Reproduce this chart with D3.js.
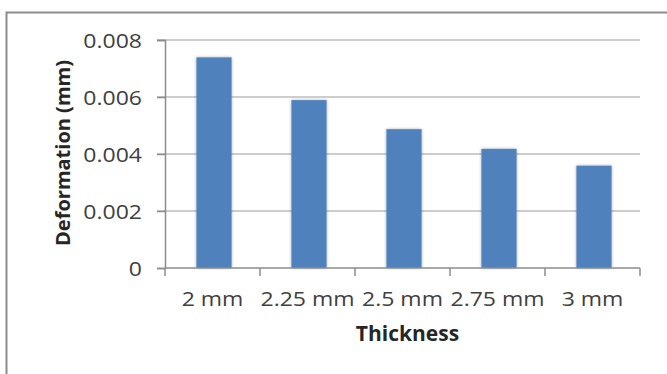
<!DOCTYPE html>
<html><head><meta charset="utf-8">
<script src="https://cdn.jsdelivr.net/npm/d3@7/dist/d3.min.js"></script>
<style>html,body{margin:0;padding:0;background:#fff;}svg{display:block;}</style>
</head><body>
<script>
const categories = ["2 mm", "2.25 mm", "2.5 mm", "2.75 mm", "3 mm"];
const deformation = [0.00739, 0.00589, 0.00487, 0.00418, 0.00359];
const yTicks = [0, 0.002, 0.004, 0.006, 0.008];
const yTickLabels = ["0", "0.002", "0.004", "0.006", "0.008"];
const xTitle = "Thickness";
const yTitle = "Deformation (mm)";

(function () {
const W = 667, H = 374;
const svg = d3.select("body").append("svg").attr("width", W).attr("height", H);

const defs = svg.append("defs");
const f = defs.append("filter").attr("id", "sh").attr("x", "-30%").attr("y", "-10%").attr("width", "160%").attr("height", "120%");
f.append("feDropShadow").attr("dx", 0).attr("dy", 0).attr("stdDeviation", 1.6).attr("flood-color", "#000").attr("flood-opacity", 0.35);

// outer frame
svg.append("rect").attr("x", 6.5).attr("y", 12.5).attr("width", 720).attr("height", 420)
  .attr("fill", "#fff").attr("stroke", "#8c8c8c").attr("stroke-width", 2);

const pLeft = 165, pRight = 640, pTop = 40, pBottom = 268;
const x = d3.scaleBand().domain(categories).range([pLeft, pRight]).paddingInner(0.63).paddingOuter(0.315);
const y = d3.scaleLinear().domain([0, 0.008]).range([pBottom, pTop]);
const step = x.step();

// gridlines
svg.append("g").selectAll("line").data(yTicks.filter(d => d > 0)).join("line")
  .attr("x1", pLeft - 8).attr("x2", pRight).attr("y1", d => y(d)).attr("y2", d => y(d))
  .attr("stroke", "#bdbdbd").attr("stroke-width", 1.5);

// y axis
const yAxis = d3.axisLeft(y).tickValues(yTicks).tickSize(8).tickFormat((d, i) => yTickLabels[i]);
const gy = svg.append("g").attr("transform", `translate(${pLeft},0)`).call(yAxis);
gy.select(".domain").attr("stroke", "#8c8c8c").attr("stroke-width", 1.5);
gy.selectAll(".tick line").attr("stroke", "#8c8c8c").attr("stroke-width", 1.5);
gy.selectAll(".tick text").each(function () {
  const t = d3.select(this);
  t.attr("x", null).attr("dy", null);
  t.attr("transform", "translate(-23,7) scale(1.15,1)")
    .attr("font-family", "Open Sans").attr("font-size", 20).attr("fill", "#404040").attr("text-anchor", "end");
});

// bars
svg.append("g").selectAll("rect").data(deformation).join("rect")
  .attr("x", (d, i) => x(categories[i]) + 1.5).attr("width", x.bandwidth())
  .attr("y", d => y(d)).attr("height", d => y(0) - y(d))
  .attr("fill", "#4f81bd").attr("filter", "url(#sh)");

// x axis
const bounds = categories.map(c => x(c) - (step - x.bandwidth()) / 2).concat([pRight]);
const gx = svg.append("g");
gx.append("line").attr("x1", pLeft).attr("x2", pRight).attr("y1", pBottom).attr("y2", pBottom)
  .attr("stroke", "#8c8c8c").attr("stroke-width", 1.5);
gx.selectAll("line.t").data(bounds).join("line").attr("class", "t")
  .attr("x1", d => d).attr("x2", d => d).attr("y1", pBottom).attr("y2", pBottom + 8)
  .attr("stroke", "#8c8c8c").attr("stroke-width", 1.5);
gx.selectAll("text").data(categories).join("text")
  .attr("transform", d => `translate(${x(d) + x.bandwidth() / 2},306) scale(1.15,1)`)
  .attr("text-anchor", "middle").attr("font-family", "Open Sans").attr("font-size", 20).attr("fill", "#404040")
  .text(d => d);

// titles
svg.append("text").attr("x", (pLeft + pRight) / 2 + 5).attr("y", 341).attr("text-anchor", "middle")
  .attr("font-family", "Open Sans").attr("font-weight", "bold").attr("font-size", 21).attr("fill", "#262626").text(xTitle);
svg.append("text").attr("transform", "translate(70,153) rotate(-90)").attr("text-anchor", "middle")
  .attr("font-family", "Open Sans").attr("font-weight", "bold").attr("font-size", 20).attr("fill", "#262626").text(yTitle);
})();
</script>
</body></html>
